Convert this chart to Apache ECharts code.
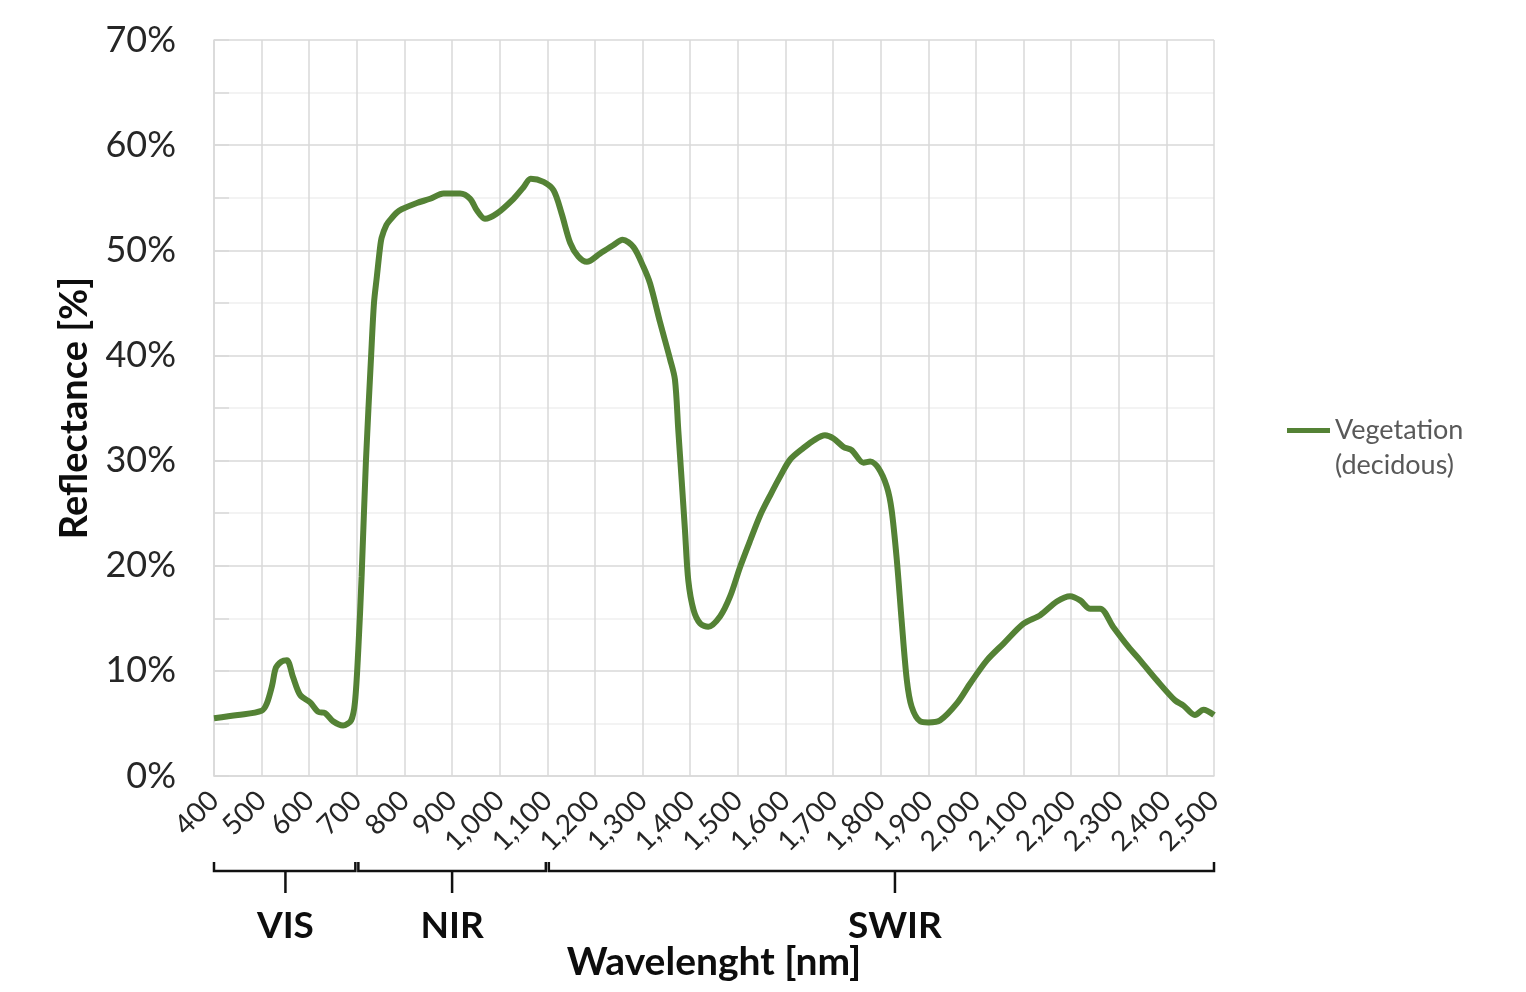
<!DOCTYPE html>
<html>
<head>
<meta charset="utf-8">
<title>Vegetation reflectance</title>
<script src="https://cdn.jsdelivr.net/npm/echarts@6/dist/echarts.min.js"></script>
<style>
  html, body { margin: 0; padding: 0; background: #fff; }
  #chart { width: 1526px; height: 992px; }
</style>
</head>
<body>
<div id="chart"></div>
<script>
// wavelength [nm] and reflectance [%]
const wavelengths = [
  400, 450, 500, 511, 522, 530, 542, 553, 566, 581, 602, 619, 633, 650, 671, 688, 696,
  703, 710, 719, 730, 736, 742, 748, 752, 762, 770, 784, 794, 826, 854, 882, 917, 938,
  952, 969, 994, 1029, 1050, 1065, 1092, 1113, 1130, 1148, 1165, 1183, 1211, 1239, 1258,
  1281, 1302, 1316, 1337, 1358, 1368, 1375, 1382, 1389, 1396, 1407, 1421, 1438, 1463,
  1484, 1505, 1526, 1547, 1568, 1589, 1610, 1638, 1662, 1683, 1701, 1722, 1739, 1764,
  1778, 1795, 1813, 1823, 1834, 1844, 1855, 1865, 1883, 1900, 1925, 1960, 1988, 2023,
  2058, 2100, 2135, 2170, 2198, 2219, 2240, 2261, 2288, 2320, 2345, 2380, 2418, 2436,
  2460, 2478, 2500
];
const reflectance = [
  5.5, 5.8, 6.2, 6.9, 8.6, 10.3, 10.9, 11.0, 9.4, 7.7, 7.0, 6.1, 6.0, 5.2, 4.8, 5.3, 7.0,
  12.0, 19.0, 29.9, 40.0, 45.0, 47.5, 50.0, 51.2, 52.4, 52.9, 53.6, 53.9, 54.5, 54.9, 55.4, 55.4, 54.9,
  53.8, 53.0, 53.5, 54.9, 56.0, 56.8, 56.5, 55.7, 53.5, 50.7, 49.4, 48.9, 49.7, 50.5, 51.0,
  50.3, 48.4, 46.8, 43.1, 39.6, 37.7, 32.9, 28.2, 23.4, 18.6, 15.8, 14.5, 14.2, 15.2,
  17.1, 19.9, 22.4, 24.8, 26.7, 28.5, 30.1, 31.2, 32.0, 32.4, 32.1, 31.3, 31.0, 29.8,
  29.9, 29.3, 27.5, 25.3, 20.5, 14.8, 9.1, 6.6, 5.2, 5.1, 5.3, 6.9, 8.8, 11.0,
  12.6, 14.5, 15.3, 16.6, 17.1, 16.7, 15.9, 15.9, 14.2, 12.3, 11.0, 9.1, 7.2, 6.7,
  5.8, 6.3, 5.8
];

// spectral bands shown as brackets under the axis
const bandNames = ['VIS', 'NIR', 'SWIR'];
const bandStart = [400, 700, 1100];
const bandEnd = [700, 1100, 2500];
const bandMark = [550, 900, 1830];

const seriesName = 'Vegetation (decidous)';
const lineColor = '#548235';
const fontFamily = 'Lato, "Open Sans", sans-serif';

const chart = echarts.init(document.getElementById('chart'));

const option = {
  animation: false,
  textStyle: { fontFamily },
  grid: { left: 214, right: 312, top: 40, bottom: 216, outerBoundsMode: 'none', containLabel: false },
  legend: {
    data: [seriesName],
    left: 1287,
    top: 378,
    padding: 0,
    icon: 'rect',
    itemWidth: 43,
    itemHeight: 5,
    // empty first line keeps the icon level with "Vegetation"
    formatter: name => '\u00a0\n' + name.replace(' ', '\n'),
    textStyle: {
      fontSize: 27,
      lineHeight: 35,
      color: '#595959'
    }
  },
  xAxis: {
    type: 'value',
    min: 400,
    max: 2500,
    interval: 100,
    name: 'Wavelenght [nm]',
    nameLocation: 'middle',
    nameGap: 167,
    nameTextStyle: { fontSize: 39, fontWeight: 'bold', color: '#0d0d0d' },
    axisLine: { lineStyle: { color: '#d9d9d9', width: 1.5 } },
    axisTick: { show: false },
    axisLabel: {
      rotate: 45,
      margin: 20,
      fontSize: 28,
      color: '#262626',
      formatter: v => v.toLocaleString('en-US')
    },
    splitLine: { show: true, lineStyle: { color: '#d9d9d9', width: 1.5 } }
  },
  yAxis: {
    type: 'value',
    min: 0,
    max: 70,
    interval: 10,
    name: 'Reflectance [%]',
    nameLocation: 'middle',
    nameGap: 120,
    nameTextStyle: { fontSize: 38, fontWeight: 'bold', color: '#0d0d0d' },
    axisLine: { show: true, lineStyle: { color: '#d9d9d9', width: 1.5 } },
    axisTick: { show: true, inside: true, length: 15, lineStyle: { color: '#d9d9d9', width: 1.5 } },
    minorTick: { show: true, splitNumber: 2, length: 15, lineStyle: { color: '#d9d9d9', width: 1.5 } },
    axisLabel: { fontSize: 36, color: '#262626', margin: 38, formatter: '{value}%' },
    splitLine: { lineStyle: { color: '#d9d9d9', width: 1.5 } },
    minorSplitLine: { show: true, lineStyle: { color: '#f0f0f0', width: 1.5 } }
  },
  series: [
    {
      name: seriesName,
      type: 'line',
      data: wavelengths.map((w, i) => [w, reflectance[i]]),
      showSymbol: false,
      smooth: 0.3,
      lineStyle: { color: lineColor, width: 6 },
      itemStyle: { color: lineColor }
    }
  ]
};

chart.setOption(option);

// brackets + band labels, placed from the axis scale
const toPx = (nm, v) => chart.convertToPixel({ xAxisIndex: 0, yAxisIndex: 0 }, [nm, v]);
const axisY = toPx(400, 0)[1];
const tipY = axisY + 86;
const barY = axisY + 95;
const stemY = axisY + 117;
const labelY = axisY + 150;

const graphics = [];
bandNames.forEach((name, i) => {
  const xs = toPx(bandStart[i], 0)[0] + (i === 0 ? 0 : 1.5);
  const xe = toPx(bandEnd[i], 0)[0] - (i === bandNames.length - 1 ? 0 : 1.5);
  const xm = toPx(bandMark[i], 0)[0];
  graphics.push({
    type: 'polyline',
    silent: true,
    shape: { points: [[xs, tipY], [xs, barY], [xe, barY], [xe, tipY]] },
    style: { stroke: '#111', lineWidth: 2.5, fill: null }
  });
  graphics.push({
    type: 'line',
    silent: true,
    shape: { x1: xm, y1: barY, x2: xm, y2: stemY },
    style: { stroke: '#111', lineWidth: 2.5 }
  });
  graphics.push({
    type: 'text',
    silent: true,
    x: xm,
    y: labelY,
    style: {
      text: name,
      fontFamily,
      fontSize: 37,
      fontWeight: 'bold',
      fill: '#0d0d0d',
      align: 'center',
      verticalAlign: 'middle'
    }
  });
});
chart.setOption({ graphic: graphics });

window.addEventListener('resize', () => chart.resize());
</script>
</body>
</html>
